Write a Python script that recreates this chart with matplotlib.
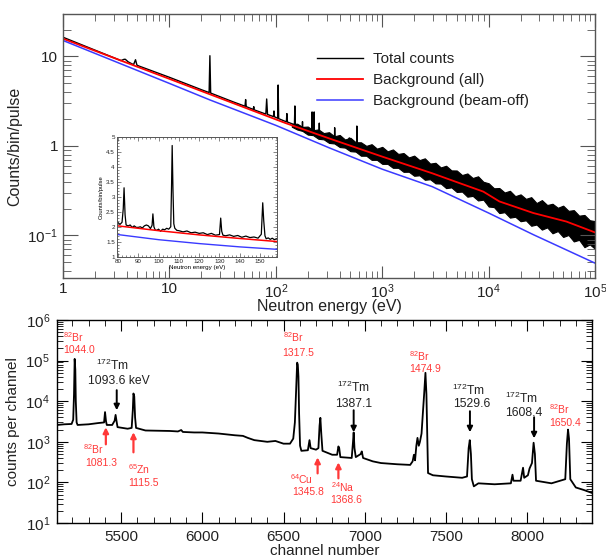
import numpy as np
import matplotlib
matplotlib.use('Agg')
import matplotlib.pyplot as plt
from matplotlib.ticker import LogLocator, NullFormatter, MultipleLocator

plt.rcParams['font.family'] = ['Liberation Sans', 'DejaVu Sans']
plt.rcParams['mathtext.fontset'] = 'custom'
plt.rcParams['mathtext.rm'] = 'Liberation Sans'
plt.rcParams['mathtext.it'] = 'Liberation Sans:italic'
plt.rcParams['mathtext.bf'] = 'Liberation Sans:bold'

# ---------------- top panel data ----------------
tot_E = [1, 3.5, 3.75, 3.85, 4.1, 4.6, 4.8, 4.95, 5.2, 10, 20, 23.6, 24.0, 24.4,
         40, 51.3, 52, 52.7, 61.3, 62, 62.7, 80.5, 82, 83.5, 95, 96, 97,
         104, 105, 106.3, 125.5, 127, 128.5, 149.5, 151, 152.5, 177, 178, 179,
         218, 219, 220.5, 228, 229, 230, 255, 256, 257, 356, 357, 359,
         489, 490, 492, 576, 577, 579, 1000, 3000, 10000, 30000, 100000]
tot_C = [16.4, 9.0, 9.3, 9.3, 8.7, 8.1, 9.2, 8.0, 7.8, 5.85, 4.25, 3.95, 10.2, 3.9,
         3.1, 2.78, 3.3, 2.75, 2.56, 2.75, 2.53, 2.27, 3.35, 2.25, 2.13, 2.46, 2.12,
         2.04, 4.8, 2.02, 1.86, 2.3, 1.85, 1.73, 2.8, 1.72, 1.62, 1.87, 1.61,
         1.48, 2.4, 1.47, 1.46, 2.4, 1.45, 1.4, 1.8, 1.39, 1.2, 1.6, 1.2,
         1.05, 1.23, 1.05, 1.0, 1.67, 1.0, 0.8, 0.52, 0.33, 0.21, 0.115]

# noisy region of the total counts: envelope (log10 of energy and of counts)
band_logE = [2.15, 2.2, 2.25, 2.3, 2.35, 2.4, 2.45, 2.5, 2.55, 2.6, 2.65, 2.7, 2.75,
             2.8, 2.85, 2.9, 2.95, 3.0, 3.05, 3.1, 3.15, 3.2, 3.25, 3.3, 3.35, 3.4,
             3.45, 3.5, 3.55, 3.6, 3.65, 3.7, 3.75, 3.8, 3.85, 3.9, 3.95, 4.0, 4.05,
             4.1, 4.15, 4.2, 4.25, 4.3, 4.35, 4.4, 4.45, 4.5, 4.55, 4.6, 4.65, 4.7,
             4.75, 4.8, 4.85, 4.9, 4.95, 5.0]
band_loghi = [.245, .249, .213, .217, .176, .185, .144, .154, .108, .123, .072, .092,
              .042, .041, .001, .02, -.03, -.01, -.06, -.039, -.089, -.079, -.128,
              -.108, -.158, -.138, -.197, -.188, -.24, -.221, -.273, -.274, -.325,
              -.307, -.358, -.339, -.40, -.417, -.473, -.47, -.52, -.501, -.561,
              -.541, -.591, -.572, -.638, -.605, -.66, -.646, -.691, -.667, -.725,
              -.717, -.779, -.771, -.83, -.84]
band_loglo = [.215, .184, .168, .127, .121, .08, .074, .034, .028, -.012, -.018, -.058,
              -.063, -.109, -.109, -.155, -.155, -.20, -.20, -.244, -.244, -.289,
              -.288, -.333, -.328, -.378, -.372, -.418, -.42, -.471, -.463, -.514,
              -.51, -.567, -.558, -.609, -.60, -.677, -.683, -.75, -.74, -.801, -.791,
              -.841, -.831, -.892, -.878, -.935, -.91, -.976, -.951, -1.017, -.995,
              -1.067, -1.049, -1.131, -1.10, -1.15]

bgall_E = [1, 10, 24, 122, 347, 1000, 2950, 5370, 8900, 12600, 26300, 53700, 100000]
bgall_C = [15.8, 5.62, 3.78, 1.81, 1.17, 0.76, 0.495, 0.383, 0.309, 0.24, 0.178,
           0.143, 0.108]

bgoff_E = [1, 10, 24, 100, 316, 1000, 2950, 10000, 26300, 100000]
bgoff_C = [15.1, 5.0, 3.27, 1.70, 0.955, 0.55, 0.351, 0.178, 0.102, 0.049]

# inset data
ins_E = [80, 81, 82, 82.6, 83, 83.5, 84, 85, 86, 87, 88, 89, 90, 91, 92, 93, 94, 95,
         96, 96.8, 97.2, 97.7, 98.3, 99, 100, 101, 102, 103, 104, 105, 106, 106.4,
         106.7, 107.1, 107.5, 108, 109, 110, 112, 114, 116, 118, 120, 122, 124, 126,
         128, 130, 130.6, 131.1, 131.7, 133, 135, 137, 139, 141, 143, 145, 147, 149,
         150.6, 151.3, 151.8, 152.4, 153, 154, 155, 156, 157, 158]
ins_C = [2.14, 2.08, 2.15, 2.6, 3.3, 2.4, 2.06, 2.03, 2.06, 1.98, 2.03, 1.98, 1.98,
         2.0, 1.96, 2.03, 2.06, 2.03, 1.94, 2.05, 2.43, 2.0, 1.9, 1.88, 1.92, 1.85,
         1.92, 1.9, 1.95, 1.92, 2.0, 3.4, 4.71, 3.2, 2.1, 1.95, 1.88, 1.87, 1.83,
         1.86, 1.8, 1.82, 1.78, 1.8, 1.74, 1.78, 1.72, 1.74, 2.29, 1.85, 1.72, 1.7,
         1.73, 1.68, 1.71, 1.65, 1.69, 1.64, 1.66, 1.62, 1.75, 2.8, 2.2, 1.7, 1.6,
         1.63, 1.58, 1.62, 1.57, 1.6]
ins_bgall_E = [80, 100, 120, 140, 158]
ins_bgall_C = [2.03, 1.87, 1.73, 1.61, 1.51]
ins_bgoff_E = [80, 100, 120, 140, 158]
ins_bgoff_C = [1.74, 1.57, 1.44, 1.33, 1.25]

# ---------------- bottom panel data ----------------
ch = [5105, 5150, 5195, 5205, 5210, 5214, 5218, 5221, 5226, 5232, 5300, 5360, 5395,
      5401, 5407, 5412, 5445, 5460, 5466, 5472, 5478, 5540, 5565, 5572, 5576, 5581,
      5586, 5592, 5650, 5800, 5850, 5870, 5880, 5950, 6000, 6100, 6200, 6250, 6280,
      6320, 6400, 6450, 6500, 6540, 6560, 6570, 6578, 6584, 6588, 6592, 6596, 6602,
      6610, 6650, 6660, 6667, 6700, 6715, 6722, 6727, 6733, 6740, 6800, 6830, 6838,
      6843, 6850, 6920, 6928, 6932, 6937, 6945, 6975, 6982, 6990, 7050, 7100, 7200,
      7280, 7295, 7303, 7310, 7318, 7325, 7333, 7340, 7350, 7358, 7366, 7374, 7380,
      7386, 7390, 7420, 7500, 7600, 7630, 7640, 7647, 7654, 7660, 7672, 7700, 7800,
      7900, 7910, 7916, 7960, 7975, 7982, 8005, 8015, 8030, 8040, 8048, 8055, 8150,
      8235, 8245, 8252, 8258, 8266, 8300, 8350, 8400]
cnt = [2600, 2700, 2750, 3500, 15000, 110000, 60000, 10000, 3000, 2600, 2700, 2900,
       3000, 5400, 3200, 2600, 2600, 3300, 4600, 3200, 2300, 2100, 2200, 6000, 15500,
       13000, 4000, 2200, 1900, 1850, 1800, 1950, 1750, 1700, 1700, 1600, 1450, 1400,
       1250, 1100, 1000, 1050, 900, 900, 1200, 3000, 20000, 89000, 80000, 40000, 5000,
       800, 600, 620, 1100, 700, 640, 700, 2500, 3900, 1500, 600, 480, 480, 770, 700,
       420, 400, 1000, 1700, 700, 420, 500, 580, 400, 330, 300, 280, 270, 330, 480,
       350, 800, 1250, 800, 1000, 1600, 5000, 15000, 50000, 15000, 1000, 170, 150,
       140, 130, 140, 700, 1100, 500, 120, 80, 95, 90, 95, 155, 110, 110, 230, 130,
       150, 220, 300, 950, 500, 110, 95, 120, 900, 2000, 1200, 120, 75, 65, 55]

RED = '#ff3838'
DARK = '#222222'
# annotations: (text, channel, counts at baseline, alignment)
labels_red = [
    ('$^{82}$Br', 5142, 2.94e5, 'left'), ('1044.0', 5142, 1.58e5, 'left'),
    ('$^{82}$Br', 5327, 506, 'center'), ('1081.3', 5377, 255, 'center'),
    ('$^{65}$Zn', 5543, 162, 'left'), ('1115.5', 5543, 82, 'left'),
    ('$^{82}$Br', 6494, 2.94e5, 'left'), ('1317.5', 6494, 1.33e5, 'left'),
    ('$^{64}$Cu', 6543, 92, 'left'), ('1345.8', 6556, 49, 'left'),
    ('$^{24}$Na', 6790, 58, 'left'), ('1368.6', 6790, 31, 'left'),
    ('$^{82}$Br', 7272, 1.0e5, 'left'), ('1474.9', 7272, 5.35e4, 'left'),
    ('$^{82}$Br', 8136, 4910, 'left'), ('1650.4', 8136, 2480, 'left'),
]
labels_dark = [
    ('$^{172}$Tm', 5445, 6.0e4), ('1093.6 keV', 5488, 2.7e4),
    ('$^{172}$Tm', 6932, 1.72e4), ('1387.1', 6932, 7310),
    ('$^{172}$Tm', 7642, 1.45e4), ('1529.6', 7660, 7310),
    ('$^{172}$Tm', 7963, 9190), ('1608.4', 7982, 4390),
]
# arrows: (channel, tail counts, tip counts)
arrows_red = [(5406, 867, 2280), (5576, 551, 1720), (6710, 167, 414), (6838, 126, 312)]
arrows_dark = [(5473, 1.87e4, 6.0e3), (6932, 6000, 1720), (7648, 5670, 1720),
               (8043, 4030, 1220)]

# ---------------- figure ----------------
fig = plt.figure(figsize=(6.06, 5.57), dpi=100)
SP = '#555555'

ax = fig.add_axes([0.104, 0.501, 0.878, 0.474])
bE = np.power(10.0, band_logE)
ax.fill_between(bE, np.power(10.0, band_loglo), np.power(10.0, band_loghi),
                color='black', lw=0.8)
ax.plot(tot_E, tot_C, color='black', lw=1.0, label='Total counts')
ax.plot(bgall_E, bgall_C, color='#ff0000', lw=1.3, label='Background (all)')
ax.plot(bgoff_E, bgoff_C, color='#3a3aff', lw=1.1, label='Background (beam-off)')
ax.set_xscale('log'); ax.set_yscale('log')
ax.set_xlim(1, 1e5); ax.set_ylim(0.0335, 29.9)
ax.set_xticks([1, 10, 100, 1e3, 1e4, 1e5],
              labels=['1', '10', '10$^{2}$', '10$^{3}$', '10$^{4}$', '10$^{5}$'])
ax.set_yticks([0.1, 1, 10], labels=['10$^{-1}$', '1', '10'])
ax.xaxis.set_minor_locator(LogLocator(base=10, subs=np.arange(2, 10)))
ax.yaxis.set_minor_locator(LogLocator(base=10, subs=np.arange(2, 10)))
ax.xaxis.set_minor_formatter(NullFormatter()); ax.yaxis.set_minor_formatter(NullFormatter())
ax.tick_params(which='both', direction='in', top=True, right=True, colors=SP,
               labelcolor='#222222', labelsize=11)
ax.tick_params(axis='x', which='major', length=9, pad=3)
ax.tick_params(axis='x', which='minor', length=5)
ax.tick_params(axis='y', which='major', length=11)
ax.tick_params(axis='y', which='minor', length=6)
for s in ax.spines.values():
    s.set_color(SP); s.set_linewidth(1.0)
ax.set_xlabel('Neutron energy (eV)', fontsize=11.5, labelpad=-1, color='#222222')
ax.set_ylabel('Counts/bin/pulse', fontsize=11.5, labelpad=4, color='#222222')
leg = ax.legend(loc='upper left', bbox_to_anchor=(0.477, 0.855), frameon=False,
                fontsize=11, handlelength=3.0, handletextpad=0.65, labelspacing=0.45,
                borderpad=0, borderaxespad=0)
for t in leg.get_texts():
    t.set_color('#222222')

# inset
ai = fig.add_axes([0.193, 0.539, 0.264, 0.2154])
ai.plot(ins_E, ins_C, color='black', lw=0.9)
ai.plot(ins_bgall_E, ins_bgall_C, color='#ff0000', lw=1.1)
ai.plot(ins_bgoff_E, ins_bgoff_C, color='#3a3aff', lw=1.0)
ai.set_xlim(79.5, 158.3); ai.set_ylim(1, 5)
ai.set_xticks([80, 90, 100, 110, 120, 130, 140, 150])
ai.set_yticks([1, 1.5, 2, 2.5, 3, 3.5, 4, 4.5, 5],
              labels=['1', '1.5', '2', '2.5', '3', '3.5', '4', '4.5', '5'])
ai.xaxis.set_minor_locator(MultipleLocator(2))
ai.yaxis.set_minor_locator(MultipleLocator(0.1))
ai.tick_params(which='both', direction='in', top=True, right=True, colors=SP,
               labelcolor='#222222', labelsize=4.5, pad=1.5, width=0.5)
ai.tick_params(which='major', length=3)
ai.tick_params(which='minor', length=1.5)
for s in ai.spines.values():
    s.set_color(SP); s.set_linewidth(0.7)
ai.set_xlabel('Neutron energy (eV)', fontsize=4.5, labelpad=0.5)
ai.set_ylabel('Counts/bin/pulse', fontsize=4.2, labelpad=2)

# bottom panel
ab = fig.add_axes([0.094, 0.061, 0.883, 0.3645])
ab.plot(ch, cnt, color='black', lw=1.3)
ab.set_yscale('log')
ab.set_xlim(5105, 8400); ab.set_ylim(10, 1e6)
ab.set_xticks([5500, 6000, 6500, 7000, 7500, 8000])
ab.set_yticks([10, 1e2, 1e3, 1e4, 1e5, 1e6],
              labels=['10$^{1}$', '10$^{2}$', '10$^{3}$', '10$^{4}$', '10$^{5}$', '10$^{6}$'])
ab.xaxis.set_minor_locator(MultipleLocator(100))
ab.yaxis.set_minor_locator(LogLocator(base=10, subs=np.arange(2, 10)))
ab.yaxis.set_minor_formatter(NullFormatter())
ab.tick_params(which='both', direction='in', top=True, right=True, labelsize=11,
               labelcolor='#222222')
ab.tick_params(which='major', length=8, pad=5)
ab.tick_params(which='minor', length=4)
for s in ab.spines.values():
    s.set_linewidth(1.0)
ab.set_xlabel('channel number', fontsize=11, labelpad=0, color='#222222')
ab.set_ylabel('counts per channel', fontsize=11, labelpad=4, color='#222222')

for txt, x, y, ha in labels_red:
    ab.text(x, y, txt, color=RED, fontsize=7.5, ha=ha, va='baseline')
for txt, x, y in labels_dark:
    ab.text(x, y, txt, color=DARK, fontsize=8.7, ha='center', va='baseline')
for x, y0, y1 in arrows_red:
    ab.annotate('', xy=(x, y1), xytext=(x, y0),
                arrowprops=dict(arrowstyle='-|>', color=RED, lw=1.6, mutation_scale=8,
                                shrinkA=0, shrinkB=0))
for x, y0, y1 in arrows_dark:
    ab.annotate('', xy=(x, y1), xytext=(x, y0),
                arrowprops=dict(arrowstyle='-|>', color='black', lw=1.4, mutation_scale=8,
                                shrinkA=0, shrinkB=0))

fig.savefig('out.png', dpi=100)
